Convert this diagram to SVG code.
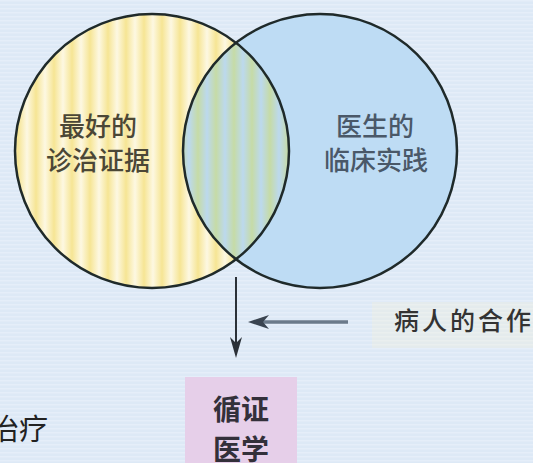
<svg xmlns="http://www.w3.org/2000/svg" width="533" height="463" viewBox="0 0 533 463">
  <style>
    .cjk { font-family: "Noto Sans CJK SC", "Noto Sans", sans-serif; }
    .ctext { font-size: 26px; text-anchor: middle; font-weight: 500; }
    .ring { fill: none; stroke: #1f2a2a; stroke-width: 2.5; }
  </style>
  <defs>
    <pattern id="bgLines" patternUnits="userSpaceOnUse" width="8" height="4">
      <rect width="8" height="4" fill="#dde9f6"/>
      <rect y="0" width="8" height="1.5" fill="#e5eef9"/>
    </pattern>
    <linearGradient id="yStripeG" x1="0" y1="0" x2="1" y2="0">
      <stop offset="0" stop-color="#f6e594"/>
      <stop offset="0.5" stop-color="#fdf8e2"/>
      <stop offset="1" stop-color="#f6e594"/>
    </linearGradient>
    <pattern id="yStripes" patternUnits="userSpaceOnUse" width="18" height="10">
      <rect width="18" height="10" fill="url(#yStripeG)"/>
    </pattern>
    <linearGradient id="gStripeG" x1="0" y1="0" x2="1" y2="0">
      <stop offset="0" stop-color="#c6dba6"/>
      <stop offset="0.5" stop-color="#bcd9ee"/>
      <stop offset="1" stop-color="#c6dba6"/>
    </linearGradient>
    <pattern id="gStripes" patternUnits="userSpaceOnUse" width="18" height="10">
      <rect width="18" height="10" fill="url(#gStripeG)"/>
    </pattern>
    <clipPath id="rightClip">
      <circle cx="320" cy="151" r="137"/>
    </clipPath>
  </defs>

  <rect width="533" height="463" fill="url(#bgLines)"/>

  <g id="circle-evidence">
    <circle cx="152" cy="151" r="137" fill="url(#yStripes)"/>
  </g>
  <g id="circle-practice">
    <circle cx="320" cy="151" r="137" fill="#bedcf4"/>
  </g>
  <g id="overlap">
    <circle cx="152" cy="151" r="137" fill="url(#gStripes)" clip-path="url(#rightClip)"/>
  </g>
  <g id="rings">
    <circle class="ring" cx="152" cy="151" r="137"/>
    <circle class="ring" cx="320" cy="151" r="137"/>
  </g>

  <g id="label-evidence" class="cjk">
    <text class="ctext" x="98" y="136" fill="#4b4736">最好的</text>
    <text class="ctext" x="98" y="170" fill="#4b4736">诊治证据</text>
  </g>
  <g id="label-practice" class="cjk">
    <text class="ctext" x="375" y="136" fill="#4a5868">医生的</text>
    <text class="ctext" x="376" y="170" fill="#4a5868">临床实践</text>
  </g>

  <g id="connectors">
    <line x1="236" y1="277" x2="236" y2="344" stroke="#2b3138" stroke-width="2"/>
    <polygon points="236,358 230,337 236,343 242,337" fill="#2b3138"/>
    <line x1="348" y1="322" x2="262" y2="322" stroke="#6b7a8a" stroke-width="3.5"/>
    <polygon points="248,322 269,315 263,322 269,329" fill="#3a4450"/>
  </g>

  <g id="patient" class="cjk">
    <rect x="372" y="302" width="161" height="46" fill="#f6f2d6" opacity="0.3"/>
    <text x="394" y="330" font-size="25" font-weight="500" letter-spacing="3" fill="#333333">病人的合作</text>
  </g>

  <g id="ebm" class="cjk">
    <rect x="185" y="377" width="112" height="90" fill="#e6cfe9"/>
    <text x="241" y="420" font-size="28" font-weight="bold" text-anchor="middle" fill="#33303a">循证</text>
    <text x="241" y="460" font-size="28" font-weight="bold" text-anchor="middle" fill="#33303a">医学</text>
  </g>

  <g id="treatment" class="cjk">
    <text x="48" y="440" font-size="29" text-anchor="end" fill="#222222">治疗</text>
  </g>
</svg>
